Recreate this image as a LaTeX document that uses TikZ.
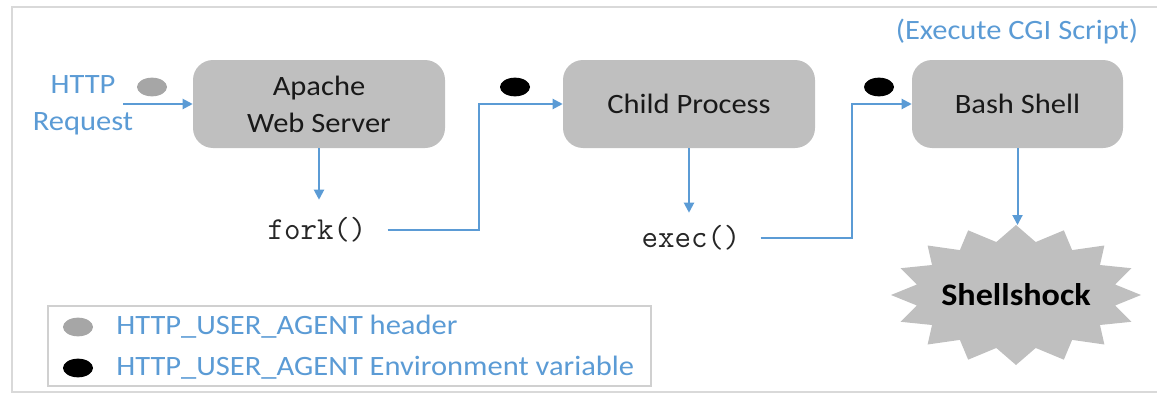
\documentclass[tikz,border=0pt]{standalone}
\usepackage{fontspec}
\setmainfont{Carlito}[FakeStretch=1.09]
\usetikzlibrary{shapes.geometric,arrows.meta,calc}
\definecolor{lineblue}{HTML}{5B9BD5}
\definecolor{txtblue}{HTML}{5B9BD5}
\definecolor{boxgray}{HTML}{BFBFBF}
\definecolor{dotgray}{HTML}{A6A6A6}
\definecolor{framegray}{HTML}{D9D9D9}
\definecolor{legendgray}{HTML}{D0D0D0}
\begin{document}
\begin{tikzpicture}[x=0.75pt,y=-0.75pt,
  every node/.style={font=\fontsize{21}{27.75}\selectfont},
  procbox/.style={rectangle, rounded corners=15pt, fill=boxgray, draw=none,
    minimum height=66pt, align=center, text=black!90, inner sep=0pt},
  bluetext/.style={text=txtblue, align=center, inner sep=0pt},
  calltext/.style={font=\ttfamily\fontsize{24}{26}\selectfont, text=black!85, inner ysep=0pt},
  arr/.style={draw=lineblue, line width=1.5pt, -{Triangle[length=7.5pt,width=7.5pt]}},
  dotg/.style={ellipse, fill=dotgray, minimum width=22.5pt, minimum height=14pt, inner sep=0pt},
  dotb/.style={ellipse, fill=black, minimum width=22.5pt, minimum height=14pt, inner sep=0pt}
]
\useasboundingbox (0,0) rectangle (1157,396);
% outer frame
\draw[framegray, line width=1pt] (1157,7) -- (12,7) -- (12,392) -- (1157,392);

% input
\node[bluetext] (http) at (83,105) {HTTP\\Request};
\coordinate (httpout) at (123,104);
\node[dotg] (d1) at (152,87) {};

% boxes
\node[procbox, minimum width=189pt] (apache) at (319,104) {Apache\\Web Server};
\node[procbox, minimum width=189pt] (child) at (689,104) {Child Process};
\node[procbox, minimum width=158.25pt] (bash) at (1017.5,104) {Bash Shell};
\node[bluetext] (cgi) at (1017,32) {(Execute CGI Script)};

% calls
\node[calltext, inner xsep=15.75pt, minimum height=45pt] (fork) at (317,230) {fork()};
\node[calltext, inner xsep=15pt, minimum height=37.5pt] (exec) at (691,238) {exec()};

\node[dotb] (d2) at (515,87) {};
\node[dotb] (d3) at (879,87) {};

% starburst
\fill[boxgray] (1016,225)
  \foreach \i in {1,...,31} {
    -- ({1016+(isodd(\i)?101:125)*cos(90+\i*11.25)},{295-(isodd(\i)?54:70)*sin(90+\i*11.25)})
  } -- cycle;
\node[font=\bfseries\fontsize{23.5}{28}\selectfont, text=black, inner sep=0pt] (shock) at (1016,295) {Shellshock};
\coordinate (shocktop) at (1017.5,225);

% connectors
\draw[arr] (httpout) -- (apache.west);
\draw[arr] (apache.south) -- (fork.north -| apache.south);
\draw[arr] (fork.east) -- ++(91,0) |- (child.west);
\draw[arr] (child.south) -- (exec.north -| child.south);
\draw[arr] (exec.east) -- ++(91,0) |- (bash.west);
\draw[arr] (bash.south) -- (shocktop);

% legend
\node[draw=legendgray, line width=0.8pt, minimum width=452.25pt, minimum height=60pt, inner sep=0pt] (legend) at (349.5,346) {};
\node[dotg] (ld1) at (78,327) {};
\node[dotb] (ld2) at (78,368) {};
\node[bluetext, anchor=west] (lt1) at (116,327) {HTTP\_USER\_AGENT header};
\node[bluetext, anchor=west] (lt2) at (116,368) {HTTP\_USER\_AGENT Environment variable};
\end{tikzpicture}
\end{document}
